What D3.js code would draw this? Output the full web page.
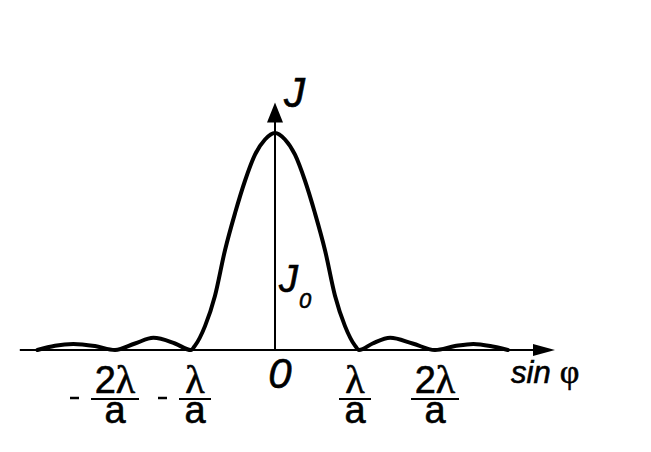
<!DOCTYPE html>
<html>
<head>
<meta charset="utf-8">
<script src="https://cdn.jsdelivr.net/npm/d3@7"></script>
<style>
  html, body { margin: 0; padding: 0; background: #fff; }
  svg { display: block; }
  text { stroke: #000; stroke-width: 0.6px; }
</style>
</head>
<body>
<script>
// sin φ in units of λ/a
const sinPhi = [-2.97, -2.75, -2.52, -2.25, -2.0, -1.75, -1.52, -1.25, -1.05, -1.0, -0.875, -0.75, -0.625, -0.5, -0.375, -0.25, -0.125, 0, 0.125, 0.25, 0.375, 0.5, 0.625, 0.75, 0.875, 1.0, 1.05, 1.22, 1.44, 1.72, 2.0, 2.25, 2.48, 2.72, 2.91];
// relative intensity J / J0
const intensity = [0.0, 0.02, 0.028, 0.018, 0.0, 0.03, 0.056, 0.03, 0.0, 0.02, 0.11, 0.25, 0.46, 0.63, 0.78, 0.90, 0.97, 1.0, 0.97, 0.90, 0.78, 0.63, 0.46, 0.25, 0.11, 0.02, 0.0, 0.03, 0.056, 0.03, 0.0, 0.018, 0.028, 0.016, 0.0];
// x tick values (multiples of λ/a) and their numerators
const tickValues = [-2, -1, 1, 2];
const tickNumerators = ["2", "", "", "2"];
const axisExtentX = [-3.19, 3.5];
const axisTopY = 1.14;

const W = 651, H = 452;
const svg = d3.select("body").append("svg").attr("width", W).attr("height", H);

const x = d3.scaleLinear().domain([-3, 3]).range([35, 515]);
const y = d3.scaleLinear().domain([0, 1]).range([350, 133]);

const sans = "'Liberation Sans', Arial, sans-serif";
const serif = "'Liberation Serif', 'Times New Roman', serif";

// x axis line + arrow
const x0 = x(axisExtentX[0]), x1 = x(axisExtentX[1]), yA = y(0);
svg.append("line").attr("x1", x0).attr("x2", x1 - 18).attr("y1", yA).attr("y2", yA)
  .attr("stroke", "#000").attr("stroke-width", 2);
svg.append("path").attr("d", `M${x1},${yA} L${x1 - 22},${yA - 6} L${x1 - 22},${yA + 6} Z`).attr("fill", "#000");

// y axis line + arrow
const xA = x(0), yT = y(axisTopY);
svg.append("line").attr("x1", xA).attr("x2", xA).attr("y1", yA).attr("y2", yT + 16)
  .attr("stroke", "#000").attr("stroke-width", 2);
svg.append("path").attr("d", `M${xA},${yT} L${xA - 8},${yT + 20} L${xA + 8},${yT + 20} Z`).attr("fill", "#000");

// curve
const line = d3.line().x((d, i) => x(sinPhi[i])).y(d => y(d)).curve(d3.curveMonotoneX);
svg.append("path").datum(intensity).attr("d", line)
  .attr("fill", "none").attr("stroke", "#000").attr("stroke-width", 4)
  .attr("stroke-linejoin", "round").attr("stroke-linecap", "round");

// tick labels (fractions)
tickValues.forEach((v, i) => {
  const cx = x(v);
  const num = tickNumerators[i];
  const half = num ? 24 : 16;
  const t = svg.append("text").attr("x", cx).attr("y", 393).attr("text-anchor", "middle")
    .attr("font-size", 38);
  if (num) t.append("tspan").attr("font-family", sans).text(num);
  t.append("tspan").attr("font-family", serif).attr("font-size", 40).text("λ");
  svg.append("line").attr("x1", cx - half).attr("x2", cx + half).attr("y1", 399).attr("y2", 399)
    .attr("stroke", "#000").attr("stroke-width", 2);
  svg.append("text").attr("x", cx).attr("y", 423).attr("text-anchor", "middle")
    .attr("font-family", sans).attr("font-size", 38).text("a");
  if (v < 0) {
    svg.append("line").attr("x1", cx - half - 21).attr("x2", cx - half - 12)
      .attr("y1", 398).attr("y2", 398).attr("stroke", "#000").attr("stroke-width", 2.5);
  }
});

// zero label
svg.append("text").attr("x", xA + 5).attr("y", 388).attr("text-anchor", "middle")
  .attr("font-family", sans).attr("font-style", "italic").attr("font-size", 42).text("0");

// x axis title
const xt = svg.append("text").attr("x", 511).attr("y", 383).attr("font-size", 31);
xt.append("tspan").attr("font-family", sans).attr("font-style", "italic").text("sin");
xt.append("tspan").attr("font-family", serif).attr("font-size", 34).attr("dx", 9).text("φ");

// y axis title
svg.append("text").attr("x", 284).attr("y", 107)
  .attr("font-family", sans).attr("font-style", "italic").attr("font-size", 42).text("J");

// J0 label
const j0 = svg.append("text").attr("x", 279).attr("y", 292)
  .attr("font-family", sans).attr("font-style", "italic").attr("font-size", 38);
j0.append("tspan").text("J");
j0.append("tspan").attr("font-size", 22).attr("dy", 16).attr("dx", 1).text("0");
</script>
</body>
</html>
